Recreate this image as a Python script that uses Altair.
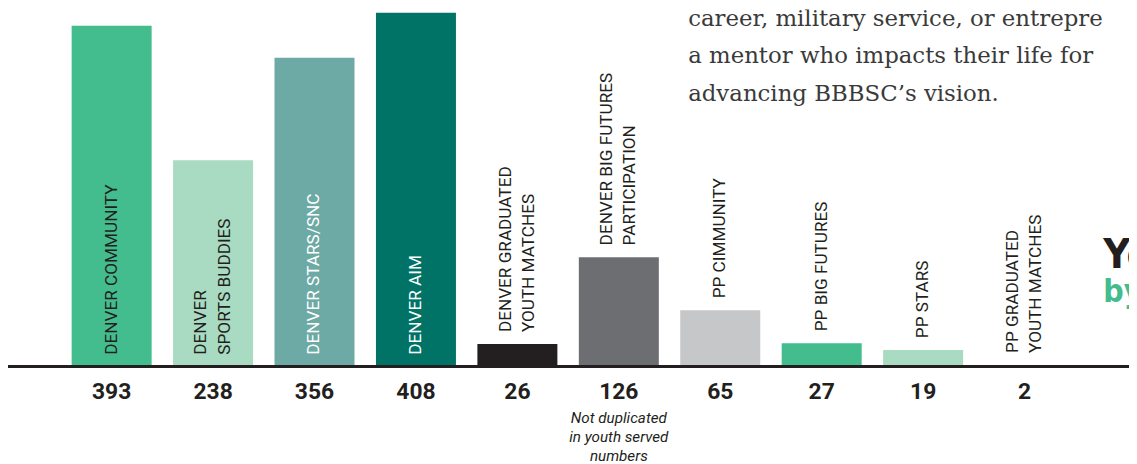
import altair as alt
import pandas as pd

# ---------------- data ----------------
categories = [
    "DENVER COMMUNITY", "DENVER SPORTS BUDDIES", "DENVER STARS/SNC", "DENVER AIM",
    "DENVER GRADUATED YOUTH MATCHES", "DENVER BIG FUTURES PARTICIPATION",
    "PP CIMMUNITY", "PP BIG FUTURES", "PP STARS", "PP GRADUATED YOUTH MATCHES",
]
labels = [
    "DENVER COMMUNITY", "DENVER\nSPORTS BUDDIES", "DENVER STARS/SNC", "DENVER AIM",
    "DENVER GRADUATED\nYOUTH MATCHES", "DENVER BIG FUTURES\nPARTICIPATION",
    "PP CIMMUNITY", "PP BIG FUTURES", "PP STARS", "PP GRADUATED\nYOUTH MATCHES",
]
values = [393, 238, 356, 408, 26, 126, 65, 27, 19, 2]
note_category = "DENVER BIG FUTURES PARTICIPATION"
note_lines = ["Not duplicated", "in youth served", "numbers"]
paragraph_lines = [
    "career, military service, or entrepre",
    "a mentor who impacts their life for",
    "advancing BBBSC\u2019s vision.",
]
side_heading = ["You", "by"]

# ---------------- styles ----------------
palette = ["#43BD8E", "#A8DBC1", "#6DA9A5", "#007366", "#231F20",
           "#6D6E71", "#C6C7C8", "#43BD8E", "#A8DBC1", "#FFFFFF"]
white_label_cats = ["DENVER STARS/SNC", "DENVER AIM"]
INK = "#231F20"
GREEN = "#43BD8E"
W, H = 1129, 456
LABEL_FONT = "Roboto"
LABEL_SIZE = 17.3
HALF_LINE = 11.75
HEAD_FONT = "DejaVu Sans Condensed, Roboto"

parts = [s.split("\n") for s in labels]
df = pd.DataFrame({
    "category": categories,
    "l1": [p[0] for p in parts],
    "l2": [p[1] if len(p) > 1 else "" for p in parts],
    "value": values,
})
note_df = pd.DataFrame({"category": [note_category], "note": ["\n".join(note_lines)]})
para_df = pd.DataFrame({"t": ["\n".join(paragraph_lines)]})

xscale = alt.Scale(domain=categories, range=[53.3, 1074.9],
                   paddingInner=0.2114, paddingOuter=0.1057)
yscale = alt.Scale(domain=[0, 411.6], range=[359.5, 0])
X = alt.X("category:N", sort=categories, scale=xscale, axis=None)

base = alt.Chart(df)

bars = base.mark_bar().encode(
    x=X,
    y=alt.Y("value:Q", scale=yscale, axis=None),
    color=alt.Color("category:N", scale=alt.Scale(domain=categories, range=palette), legend=None),
)

baseline = alt.Chart(pd.DataFrame({"zero": [0]})).mark_rule(color=INK, strokeWidth=3).encode(
    y=alt.Y("zero:Q", scale=yscale, axis=None),
    x=alt.value(0),
    x2=alt.value(W),
)

label_color = alt.condition(
    alt.FieldOneOfPredicate(field="category", oneOf=white_label_cats),
    alt.value("#FFFFFF"), alt.value(INK))

lab = base.transform_calculate(ypos="datum.value >= 200 ? 0 : datum.value")
lab_props = dict(font=LABEL_FONT, fontSize=LABEL_SIZE, angle=270, align="left",
                 baseline="middle", dx=12)
Ylab = alt.Y("ypos:Q", scale=yscale, axis=None)

single = lab.transform_filter("datum.l2 == ''").mark_text(**lab_props).encode(
    x=X, y=Ylab, text="l1:N", color=label_color)
first = lab.transform_filter("datum.l2 != ''").mark_text(dy=-HALF_LINE, **lab_props).encode(
    x=X, y=Ylab, text="l1:N", color=label_color)
second = lab.transform_filter("datum.l2 != ''").mark_text(dy=HALF_LINE, **lab_props).encode(
    x=X, y=Ylab, text="l2:N", color=label_color)

value_labels = base.transform_calculate(zero="0").mark_text(
    font="Roboto", fontWeight="bold", fontSize=23, baseline="alphabetic",
    dy=32.5, color=INK,
).encode(x=X, y=alt.Y("zero:Q", scale=yscale, axis=None), text="value:Q")

note = alt.Chart(note_df).transform_calculate(zero="0").mark_text(
    font="Roboto", fontStyle="italic", fontSize=15.3, baseline="alphabetic",
    lineBreak="\n", lineHeight=19.3, dy=56.5, color=INK,
).encode(x=X, y=alt.Y("zero:Q", scale=yscale, axis=None), text="note:N")

paragraph = alt.Chart(para_df).mark_text(
    font="DejaVu Serif", fontSize=23, align="left", baseline="alphabetic",
    lineBreak="\n", lineHeight=38, color="#3a3a3a", clip=True,
).encode(x=alt.value(685), y=alt.value(16), text="t:N")

side_top = alt.Chart(pd.DataFrame({"t": [side_heading[0]]})).mark_text(
    font=HEAD_FONT, fontWeight="bold", fontSize=42, align="left", baseline="alphabetic",
    clip=True, color=INK,
).encode(x=alt.value(1103), y=alt.value(260), text="t:N")

side_bottom = alt.Chart(pd.DataFrame({"t": [side_heading[1]]})).mark_text(
    font=HEAD_FONT, fontWeight="bold", fontSize=32, align="left", baseline="alphabetic",
    clip=True, color=GREEN,
).encode(x=alt.value(1103), y=alt.value(294), text="t:N")

chart = alt.layer(
    bars, baseline, single, first, second, value_labels, note, paragraph, side_top, side_bottom
).resolve_scale(color="independent").properties(
    width=W, height=H, padding=0, autosize=alt.AutoSizeParams(type="none"),
).configure_view(stroke=None)

chart.save("out.html", embed_options={"renderer": "svg", "actions": False})
